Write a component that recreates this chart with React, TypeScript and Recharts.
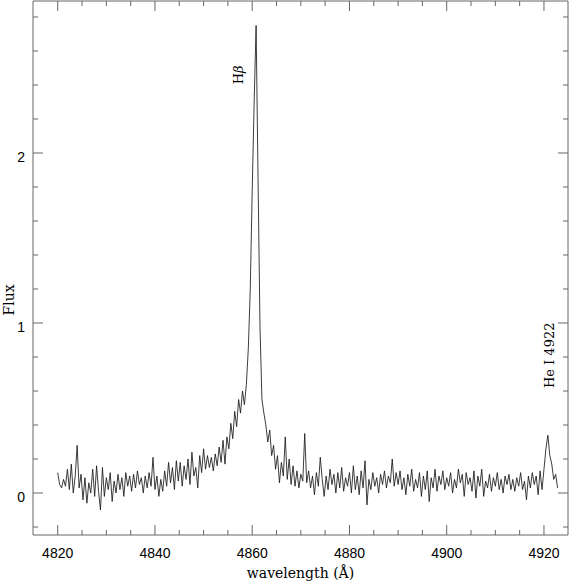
import { LineChart, Line, XAxis, YAxis, ReferenceDot, Label } from 'recharts'

// wavelength grid of the spectrum (Å)
const WAVE_START = 4820.0
const WAVE_STEP = 0.4

// flux, one value per grid step
const flux = [
  0.12, 0.05, 0.03, 0.08, 0.04, 0.14, 0.02, 0.17, 0.0, 0.1,
  0.28, 0.03, 0.11, -0.04, 0.09, -0.06, 0.06, 0.0, 0.14, -0.02,
  0.16, 0.01, -0.1, 0.15, -0.02, 0.09, 0.02, 0.12, -0.05, 0.07,
  0.0, 0.11, 0.02, 0.09, -0.02, 0.12, 0.04, 0.1, 0.01, 0.11,
  0.03, 0.13, 0.05, 0.09, 0.0, 0.1, 0.03, 0.12, 0.04, 0.21,
  0.02, 0.1, -0.02, 0.08, 0.01, 0.13, 0.04, 0.18, 0.06, 0.15,
  0.02, 0.19, 0.07, 0.18, 0.04, 0.16, 0.08, 0.2, 0.05, 0.24,
  0.1, 0.15, 0.03, 0.22, 0.12, 0.26, 0.14, 0.22, 0.15, 0.21,
  0.13, 0.23, 0.16, 0.27, 0.18, 0.31, 0.17, 0.33, 0.26, 0.41,
  0.32, 0.48, 0.39, 0.55, 0.47, 0.6, 0.52, 0.64, 0.85, 1.2,
  1.78, 2.3, 2.75, 1.85, 0.98, 0.55, 0.47, 0.4, 0.3, 0.37,
  0.22, 0.28, 0.14, 0.22, 0.06, 0.18, 0.1, 0.33, 0.08, 0.2,
  0.05, 0.16, 0.04, 0.13, 0.03, 0.11, 0.07, 0.35, 0.06, 0.13,
  0.03, 0.1, -0.01, 0.12, 0.04, 0.21, 0.08, -0.02, 0.1, 0.02,
  0.14, 0.05, 0.11, 0.0, 0.12, 0.03, 0.15, 0.01, 0.09, 0.04,
  0.12, 0.0, 0.16, 0.02, 0.1, -0.01, 0.13, 0.03, 0.19, -0.07,
  0.08, 0.02, 0.12, 0.04, 0.09, 0.0, 0.11, 0.05, 0.13, 0.03,
  0.1, 0.06, 0.2, 0.04, 0.12, 0.05, 0.13, 0.02, 0.09, -0.01,
  0.11, 0.04, 0.14, 0.01, 0.08, 0.03, 0.12, -0.02, 0.1, 0.02,
  0.13, -0.05, 0.09, 0.03, 0.14, 0.01, 0.1, 0.05, 0.13, 0.02,
  0.09, 0.04, 0.12, 0.0, 0.08, 0.03, 0.14, 0.06, 0.11, -0.02,
  0.12, 0.05, 0.09, 0.01, 0.13, -0.03, 0.1, 0.04, 0.14, -0.02,
  0.07, 0.03, 0.11, 0.01, 0.09, 0.04, 0.12, 0.02, 0.08, 0.0,
  0.1, 0.05, 0.11, 0.02, 0.08, 0.01, 0.09, 0.04, 0.12, 0.02,
  0.07, -0.04, 0.1, 0.03, 0.12, 0.05, 0.1, -0.01, 0.13, 0.02,
  0.14, 0.26, 0.34, 0.22, 0.17, 0.08, 0.11, 0.03,
]

const xTicks = [
  4820, 4825, 4830, 4835, 4840, 4845, 4850, 4855, 4860, 4865, 4870,
  4875, 4880, 4885, 4890, 4895, 4900, 4905, 4910, 4915, 4920,
]
const yTicks = [
  -0.2, 0, 0.2, 0.4, 0.6, 0.8, 1, 1.2, 1.4, 1.6, 1.8, 2, 2.2, 2.4, 2.6, 2.8,
]

// line ids: plain part + optional italic part
const lines = [
  { name: 'H', greek: '\u03B2', wave: 4857.1, flux: 2.46 },
  { name: 'He I 4922', greek: '', wave: 4921.2, flux: 0.81 },
]

const data = flux.map((f, i) => ({ w: +(WAVE_START + i * WAVE_STEP).toFixed(1), f }))

const AXIS = '#666'
const tickFont = { fontFamily: '"Liberation Sans", Arial, sans-serif', fontSize: 14 }
const serif = '"DejaVu Serif", "Liberation Serif", serif'

const isMajorX = (v: number) => v % 20 === 0
const isMajorY = (v: number) => Math.abs(v - Math.round(v)) < 1e-6

const BottomTick = ({ x, y, payload }: any) => {
  const major = isMajorX(payload.value)
  return (
    <g>
      <line x1={x} x2={x} y1={y} y2={y - (major ? 10 : 5)} stroke={AXIS} />
      {major && (
        <text x={x} y={y + 23} textAnchor="middle" fill="#000" style={tickFont}>
          {payload.value}
        </text>
      )}
    </g>
  )
}

const TopTick = ({ x, y, payload }: any) => {
  const major = isMajorX(payload.value)
  return <line x1={x} x2={x} y1={y} y2={y + (major ? 10 : 5)} stroke={AXIS} />
}

const LeftTick = ({ x, y, payload }: any) => {
  const major = isMajorY(payload.value)
  return (
    <g>
      <line x1={x} x2={x + (major ? 10 : 5)} y1={y} y2={y} stroke={AXIS} />
      {major && (
        <text x={x - 8} y={y + 9} textAnchor="end" fill="#000" style={tickFont}>
          {Math.round(payload.value)}
        </text>
      )}
    </g>
  )
}

const RightTick = ({ x, y, payload }: any) => {
  const major = isMajorY(payload.value)
  return <line x1={x} x2={x - (major ? 10 : 5)} y1={y} y2={y} stroke={AXIS} />
}

const rotatedLabel = (text: string, greek: string) => (props: any) => {
  const vb = props.viewBox
  const cx = vb.x + vb.width / 2
  const cy = vb.y + vb.height / 2
  return (
    <text
      x={cx}
      y={cy}
      transform={`rotate(-90 ${cx} ${cy})`}
      textAnchor="middle"
      dominantBaseline="central"
      fill="#000"
      style={{ fontFamily: serif, fontSize: 13 }}
    >
      {text}
      {greek && <tspan fontStyle="italic">{greek}</tspan>}
    </text>
  )
}

export default function App() {
  const xDomain = [4814.92, 4924.94]
  const yDomain = [-0.247, 2.894]
  return (
    <div style={{ position: 'absolute', left: 0, top: 0, background: '#fff' }}>
      <LineChart width={569} height={582} data={data} margin={{ top: 0, right: 0, bottom: 0, left: 0 }}>
        <XAxis
          dataKey="w"
          type="number"
          domain={xDomain}
          ticks={xTicks}
          interval={0}
          allowDataOverflow
          height={47}
          tickSize={0}
          tickMargin={0}
          tick={<BottomTick />}
          axisLine={{ stroke: AXIS }}
        >
          <Label
            content={(props: any) => {
              const vb = props.viewBox
              return (
                <text
                  x={vb.x + vb.width / 2}
                  y={vb.y + 43}
                  textAnchor="middle"
                  fill="#000"
                  style={{ fontFamily: serif, fontSize: 14 }}
                >
                  wavelength (Å)
                </text>
              )
            }}
          />
        </XAxis>
        <XAxis
          xAxisId="top"
          orientation="top"
          dataKey="w"
          type="number"
          domain={xDomain}
          ticks={xTicks}
          interval={0}
          allowDataOverflow
          height={1}
          tickSize={0}
          tickMargin={0}
          tick={<TopTick />}
          axisLine={{ stroke: AXIS }}
        />
        <YAxis
          type="number"
          domain={yDomain}
          ticks={yTicks}
          interval={0}
          allowDataOverflow
          width={33}
          tickSize={0}
          tickMargin={0}
          tick={<LeftTick />}
          axisLine={{ stroke: AXIS }}
        >
          <Label
            content={() => (
              <text
                x={9}
                y={300}
                transform="rotate(-90 9 300)"
                textAnchor="middle"
                dominantBaseline="central"
                fill="#000"
                style={{ fontFamily: serif, fontSize: 14 }}
              >
                Flux
              </text>
            )}
          />
        </YAxis>
        <YAxis
          yAxisId="right"
          orientation="right"
          type="number"
          domain={yDomain}
          ticks={yTicks}
          interval={0}
          allowDataOverflow
          width={1}
          tickSize={0}
          tickMargin={0}
          tick={<RightTick />}
          axisLine={{ stroke: AXIS }}
        />
        {/* invisible twin so the mirrored top/right axes get drawn */}
        <Line
          xAxisId="top"
          yAxisId="right"
          type="linear"
          dataKey="f"
          stroke="none"
          dot={false}
          activeDot={false}
          isAnimationActive={false}
        />
        <Line
          type="linear"
          dataKey="f"
          stroke="#1a1a1a"
          strokeWidth={0.85}
          dot={false}
          isAnimationActive={false}
        />
        {lines.map((l) => (
          <ReferenceDot
            key={l.name}
            x={l.wave}
            y={l.flux}
            r={1}
            fill="none"
            stroke="none"
            ifOverflow="visible"
            label={{ content: rotatedLabel(l.name, l.greek) }}
          />
        ))}
      </LineChart>
    </div>
  )
}
